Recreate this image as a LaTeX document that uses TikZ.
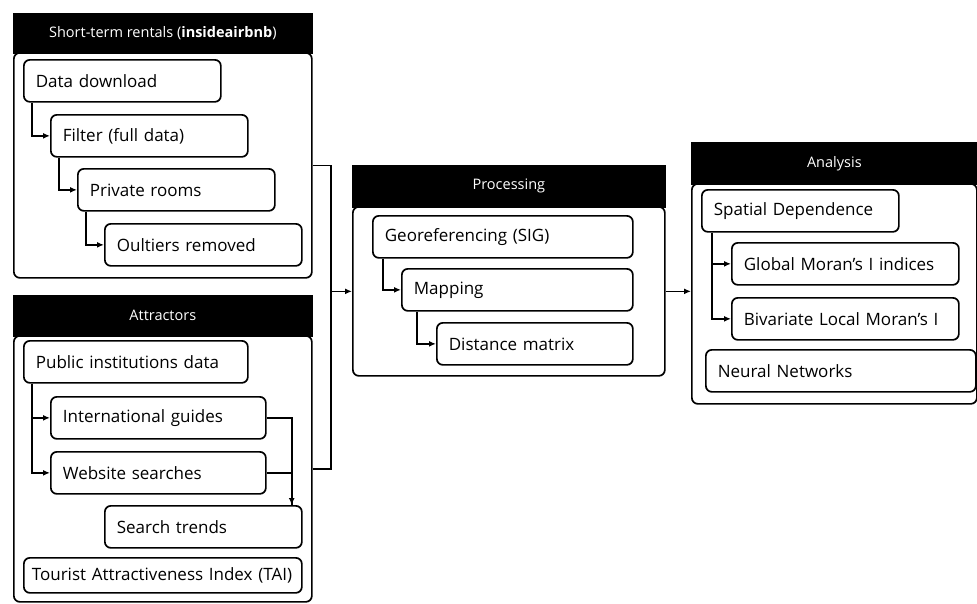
\documentclass[tikz,border=0pt]{standalone}
\usepackage{fontspec}
\setmainfont{Open Sans}
\usetikzlibrary{arrows.meta}

\tikzset{
	head/.style={fill=black, draw=black, line width=1.7pt, text=white, font=\fontsize{14.5}{16}\selectfont, anchor=north west, inner sep=0pt},
	frame/.style={draw, line width=1.7pt, rounded corners=6pt, anchor=north west, inner sep=0pt},
	box/.style={draw, fill=white, line width=1.7pt, rounded corners=6pt, anchor=north west, inner xsep=12pt, inner ysep=0pt, align=left, minimum height=42pt, font=\fontsize{17}{19}\selectfont},
	wire/.style={line width=1.7pt},
	link/.style={wire, -{Latex[length=7pt,width=6pt]}},
}

\begin{document}
\begin{tikzpicture}[x=1pt,y=-1pt]
		\useasboundingbox (0,0) rectangle (977,603);
		% groups
		\node[frame, minimum width=298, minimum height=225] (g1) at (13,52) {};
		\node[head, minimum width=298, minimum height=39] (h1) at (13,13) {Short-term rentals (\textbf{insideairbnb})};
		\node[frame, minimum width=298, minimum height=266] (g2) at (13,335) {};
		\node[head, minimum width=298, minimum height=40] (h2) at (13,295) {Attractors};
		\node[frame, minimum width=312, minimum height=169] (gp) at (352,206) {};
		\node[head, minimum width=312, minimum height=41] (hp) at (352,165) {Processing};
		\node[frame, minimum width=285, minimum height=220] (ga) at (691,183) {};
		\node[head, minimum width=285, minimum height=41] (ha) at (691,142) {Analysis};
		% short-term rentals
		\node[box, text width=173] (dd) at (23,59) {Data download};
		\node[box, text width=173] (fd) at (50,114) {Filter (full data)};
		\node[box, text width=173] (pr) at (77,168) {Private rooms};
		\node[box, text width=173] (or) at (104,223) {Oultiers removed};
		\draw[link] ([xshift=9pt]dd.south west) |- (fd.west);
		\draw[link] ([xshift=9pt]fd.south west) |- (pr.west);
		\draw[link] ([xshift=9pt]pr.south west) |- (or.west);
		% attractors
		\node[box, text width=200] (pid) at (23,340) {Public institutions data};
		\node[box, text width=191] (ig) at (50,396) {International guides};
		\node[box, text width=191] (ws) at (50,451) {Website searches};
		\node[box, text width=173] (st) at (104,505) {Search trends};
		\node[box, text width=262, inner xsep=8pt, minimum height=35] (tai) at (23,557) {Tourist Attractiveness Index (TAI)};
		\draw[link] ([xshift=9pt]pid.south west) |- (ig.west);
		\draw[link] ([xshift=9pt]pid.south west) |- (ws.west);
		\draw[link] (ig.east) -| ([xshift=-11pt]st.north east);
		\draw[wire] (ws.east) -| ([xshift=-11pt]st.north east);
		% processing
		\node[box, text width=236] (geo) at (372,215) {Georeferencing (SIG)};
		\node[box, text width=207] (map) at (401,268) {Mapping};
		\node[box, text width=172] (dm) at (436,322) {Distance matrix};
		\draw[link] ([xshift=11pt]geo.south west) |- (map.west);
		\draw[link] ([xshift=16pt]map.south west) |- (dm.west);
		% analysis
		\node[box, text width=173] (sd) at (701,189) {Spatial Dependence};
		\node[box, text width=203] (gm) at (731,242) {Global Moran’s I indices};
		\node[box, text width=203] (bl) at (731,297) {Bivariate Local Moran’s I};
		\node[box, text width=246] (nn) at (705,349) {Neural Networks};
		\draw[link] ([xshift=11pt]sd.south west) |- (gm.west);
		\draw[link] ([xshift=11pt]sd.south west) |- (bl.west);
		% between groups
		\path (gp.west) ++(-21,0) coordinate (join);
		\draw[wire] (g1.east) -| (join);
		\draw[wire] (g2.east) -| (join);
		\draw[link] (join) -- (gp.west);
		\draw[link] (gp.east) -- (gp.east -| ga.west);
\end{tikzpicture}
\end{document}
